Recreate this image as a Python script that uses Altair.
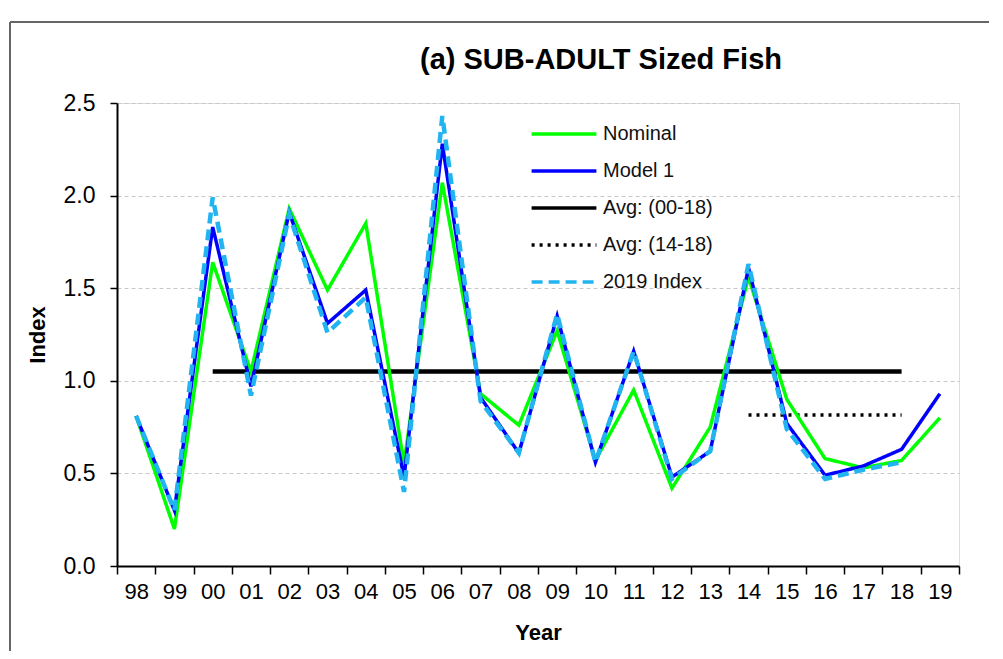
import altair as alt
import pandas as pd

years = ["98", "99", "00", "01", "02", "03", "04", "05", "06", "07", "08",
         "09", "10", "11", "12", "13", "14", "15", "16", "17", "18", "19"]

nominal = [0.81, 0.20, 1.64, 1.05, 1.93, 1.49, 1.85, 0.55, 2.07, 0.93, 0.76,
           1.27, 0.57, 0.95, 0.42, 0.75, 1.56, 0.90, 0.58, 0.53, 0.57, 0.80]
model1 = [0.81, 0.30, 1.83, 0.97, 1.91, 1.31, 1.49, 0.48, 2.28, 0.91, 0.61,
          1.35, 0.56, 1.16, 0.48, 0.62, 1.61, 0.77, 0.49, 0.54, 0.63, 0.93]
index2019_years = years[:21]
index2019 = [0.81, 0.30, 1.99, 0.92, 1.90, 1.26, 1.45, 0.40, 2.43, 0.89, 0.61,
             1.36, 0.56, 1.16, 0.47, 0.62, 1.63, 0.74, 0.47, 0.52, 0.56]
avg_00_18_years = years[2:21]
avg_00_18 = [1.05, 1.05, 1.05, 1.05, 1.05, 1.05, 1.05, 1.05, 1.05, 1.05,
             1.05, 1.05, 1.05, 1.05, 1.05, 1.05, 1.05, 1.05, 1.05]
avg_14_18_years = years[16:21]
avg_14_18 = [0.815, 0.815, 0.815, 0.815, 0.815]

series_names = ["Nominal", "Model 1", "Avg: (00-18)", "Avg: (14-18)", "2019 Index"]
series_colors = ["#00FF00", "#0000FF", "#000000", "#000000", "#22B4F0"]
series_dash = [[1, 0], [1, 0], [1, 0], [3, 5], [11, 6]]

rows = []
for name, ys, vs in [
    ("Nominal", years, nominal),
    ("Model 1", years, model1),
    ("Avg: (00-18)", avg_00_18_years, avg_00_18),
    ("Avg: (14-18)", avg_14_18_years, avg_14_18),
    ("2019 Index", index2019_years, index2019),
]:
    for y, v in zip(ys, vs):
        rows.append({"year": y, "value": v, "series": name})
df = pd.DataFrame(rows)

FONT = "Liberation Sans"

legend = alt.Legend(
    title=None, orient="none", legendX=427, legendY=11,
    symbolType="M-1.8,0H1.8", symbolSize=1296, symbolStrokeWidth=3.5,
    labelFontSize=20, labelFont=FONT, labelColor="#111", labelOffset=19,
    rowPadding=7,
)

x_enc = alt.X(
    "year:N", sort=years,
    scale=alt.Scale(type="band", domain=years, paddingInner=0, paddingOuter=0),
    axis=alt.Axis(title="Year", labelAngle=0, labelFontSize=22, labelFont=FONT,
                  labelColor="#000", tickBand="extent", tickSize=8, tickColor="#000",
                  tickWidth=1.5, domainColor="#000", domainWidth=2, labelPadding=7,
                  titleFontSize=22, titleFont=FONT, titleFontWeight="bold",
                  titlePadding=20, grid=False),
)
y_enc = alt.Y(
    "value:Q",
    scale=alt.Scale(domain=[0, 2.5], nice=False, zero=True),
    axis=alt.Axis(title="Index", values=[0, 0.5, 1.0, 1.5, 2.0, 2.5], format=".1f",
                  labelFontSize=23, labelFont=FONT, labelColor="#000",
                  tickSize=7, tickColor="#000", tickWidth=1.5,
                  domainColor="#000", domainWidth=2, labelPadding=15,
                  grid=True, gridDash=[4, 3], gridColor="#C8C8C8", gridWidth=1,
                  titleFontSize=22, titleFont=FONT, titleFontWeight="bold",
                  titlePadding=14),
)
color_enc = alt.Color("series:N", scale=alt.Scale(domain=series_names, range=series_colors),
                      legend=legend)
dash_enc = alt.StrokeDash("series:N", scale=alt.Scale(domain=series_names, range=series_dash),
                          legend=legend)

base = alt.Chart(df)


def layer(name, width):
    return base.transform_filter(alt.datum.series == name).mark_line(
        strokeWidth=width
    ).encode(x=x_enc, y=y_enc, color=color_enc, strokeDash=dash_enc)


frame_df = pd.DataFrame({"k": [0]})
frame_left = alt.Chart(frame_df).mark_rule(color="#666", strokeWidth=2).encode(
    x=alt.value(-107), y=alt.value(-81), y2=alt.value(570))
frame_top = alt.Chart(frame_df).mark_rule(color="#666", strokeWidth=2).encode(
    x=alt.value(-107), x2=alt.value(900), y=alt.value(-81))

chart = alt.layer(
    layer("Avg: (00-18)", 4.5),
    layer("Avg: (14-18)", 3.5),
    layer("Nominal", 3.5),
    layer("Model 1", 3.5),
    layer("2019 Index", 4.5),
    frame_left,
    frame_top,
).properties(
    width=842, height=463,
    title=alt.TitleParams("(a) SUB-ADULT Sized Fish", fontSize=29, font=FONT,
                          fontWeight="bold", anchor="middle", dx=63, dy=54, offset=0,
                          color="#000"),
    autosize=alt.AutoSizeParams(type="none"),
    padding={"left": 109, "top": 95, "right": 30, "bottom": 85},
).configure_view(stroke="#999", strokeWidth=2).configure(background="white")

chart.save("out.html", embed_options={"renderer": "svg", "actions": False})
